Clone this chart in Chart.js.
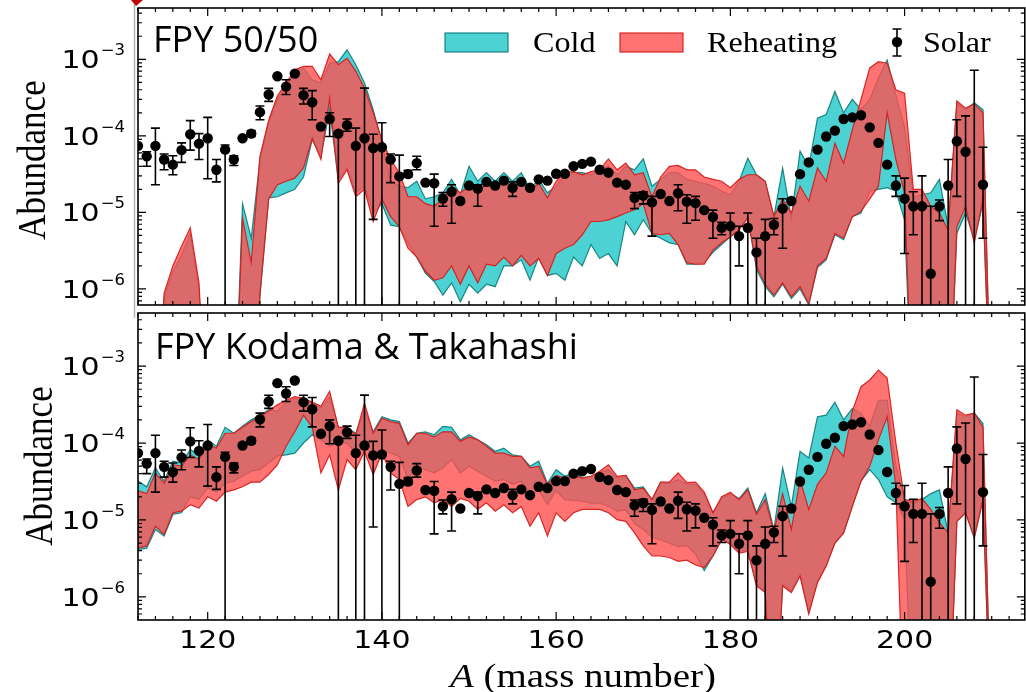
<!DOCTYPE html>
<html>
<head>
<meta charset="utf-8">
<title>r-process abundances, A = 112-210</title>
<script src="https://cdn.jsdelivr.net/npm/chart.js@4.4.1/dist/chart.umd.min.js"></script>
<style>
  html, body { margin: 0; padding: 0; background: #fff; overflow: hidden; }
  #wrap { position: relative; width: 1026px; height: 692px; overflow: hidden; }
  #wrap canvas { position: absolute; left: 0; top: 0; }
</style>
</head>
<body>
<div id="wrap">
  <canvas id="topChart" width="1030" height="692"></canvas>
  <canvas id="bottomChart" width="1030" height="692"></canvas>
</div>
<script>
// below the plotted range (band goes to zero there)
const OFF = 1e-8;

const massNumber = [
  112, 113, 114, 115, 116, 117, 118, 119, 120, 121,
  122, 123, 124, 125, 126, 127, 128, 129, 130, 131,
  132, 133, 134, 135, 136, 137, 138, 139, 140, 141,
  142, 143, 144, 145, 146, 147, 148, 149, 150, 151,
  152, 153, 154, 155, 156, 157, 158, 159, 160, 161,
  162, 163, 164, 165, 166, 167, 168, 169, 170, 171,
  172, 173, 174, 175, 176, 177, 178, 179, 180, 181,
  182, 183, 184, 185, 186, 187, 188, 189, 190, 191,
  192, 193, 194, 195, 196, 197, 198, 199, 200, 201,
  202, 203, 204, 205, 206, 207, 208, 209, 210
];

// Solar r-process abundances with error bar ends (null = bar hidden by marker)
const solarAbund = [
  7.4e-5, 5.4e-5, 7.4e-5, 4.9e-5, 4.2e-5, 6.5e-5, 1.05e-4, 7.9e-5, 9.3e-5, 3.6e-5,
  6.6e-5, 4.9e-5, 9.3e-5, 1.07e-4, 2.04e-4, 3.47e-4, 6.0e-4, 4.4e-4, 6.5e-4, 3.4e-4,
  2.75e-4, 1.32e-4, 1.66e-4, 1.07e-4, 1.38e-4, 7.4e-5, 9.3e-5, 6.9e-5, 7.1e-5, 4.9e-5,
  2.95e-5, 3.16e-5, 4.4e-5, 2.45e-5, 2.4e-5, 1.51e-5, 1.86e-5, 1.41e-5, 2.24e-5, 2.04e-5,
  2.5e-5, 2.24e-5, 2.6e-5, 2.1e-5, 2.5e-5, 2.1e-5, 2.7e-5, 2.6e-5, 3.2e-5, 3.2e-5,
  4.0e-5, 4.3e-5, 4.6e-5, 3.6e-5, 3.3e-5, 2.45e-5, 2.3e-5, 1.55e-5, 1.66e-5, 1.35e-5,
  1.74e-5, 1.41e-5, 1.78e-5, 1.38e-5, 1.32e-5, 1.07e-5, 8.7e-6, 6.3e-6, 6.6e-6, 4.9e-6,
  6.3e-6, 3.0e-6, 4.9e-6, 6.9e-6, 1.12e-5, 1.41e-5, 3.16e-5, 4.5e-5, 6.6e-5, 9.8e-5,
  1.17e-4, 1.66e-4, 1.74e-4, 1.86e-4, 1.29e-4, 8.1e-5, 4.2e-5, 2.24e-5, 1.51e-5, 1.2e-5,
  1.2e-5, 1.58e-6, 1.2e-5, 2.24e-5, 8.5e-5, 6.2e-5, 3.0e-7, 2.3e-5, null
];
const solarErrHi = [
  null, 6.2e-5, 1.26e-4, 5.8e-5, 5.5e-5, 8.1e-5, 1.58e-4, 1.07e-4, 1.74e-4, 4.9e-5,
  7.6e-5, 5.5e-5, null, 1.17e-4, 2.45e-4, 4.17e-4, null, 5.4e-4, null, 4.17e-4,
  3.9e-4, null, 2.0e-4, 1.12e-4, 1.66e-4, 1.26e-4, 4.2e-4, 1.05e-4, 1.48e-4, 5.8e-5,
  5.6e-5, 3.55e-5, 5.4e-5, null, 3.16e-5, 1.82e-5, 2.3e-5, null, null, 2.3e-5,
  null, null, null, 2.5e-5, null, null, null, null, null, null,
  null, null, null, null, null, null, null, 1.82e-5, 1.86e-5, 1.62e-5,
  null, null, 2.3e-5, 1.7e-5, 1.62e-5, null, 1.07e-5, 7.4e-6, 9.8e-6, 6.6e-6,
  9.8e-6, 4.6e-6, 8.1e-6, 8.3e-6, 1.51e-5, null, null, null, null, null,
  null, null, null, null, null, null, null, 3.0e-5, 2.8e-5, 1.86e-5,
  3.0e-5, 1.2e-5, 1.45e-5, 4.9e-5, 1.62e-4, 1.82e-4, 7.2e-4, 7.1e-5, null
];
const solarErrLo = [
  null, 4.0e-5, 2.3e-5, 3.6e-5, 3.1e-5, 4.5e-5, 6.5e-5, 4.9e-5, 2.75e-5, 2.5e-5,
  OFF, 4.1e-5, null, 9.8e-5, 1.62e-4, 2.82e-4, null, 3.47e-4, null, 2.6e-4,
  1.62e-4, null, 9.8e-5, OFF, 1.15e-4, OFF, OFF, 8.1e-6, OFF, 2.45e-5,
  OFF, 2.9e-5, 3.6e-5, null, 6.6e-6, 1.2e-5, 7.2e-6, null, null, 1.2e-5,
  null, null, null, 1.62e-5, null, null, null, null, null, null,
  null, null, null, null, null, null, null, 1.12e-5, 1.29e-5, 4.9e-6,
  null, null, 1.05e-5, 7.2e-6, 7.9e-6, null, 4.6e-6, 5.1e-6, OFF, 2.0e-6,
  OFF, OFF, OFF, 5.1e-6, 3.4e-6, null, null, null, null, null,
  null, null, null, null, null, null, null, 1.62e-5, 2.9e-6, 5.1e-6,
  OFF, OFF, 7.8e-6, OFF, 1.62e-5, OFF, OFF, 4.6e-6, null
];

// FPY 50/50 : cold and reheating bands (lower / upper edge)
const coldLo5050 = [
  OFF, OFF, OFF, OFF, OFF, OFF, OFF, OFF, OFF, OFF,
  OFF, OFF, OFF, OFF, 7.9e-7, 1.55e-5, 1.6e-5, 1.8e-5, 2.0e-5, 2.9e-5,
  8.9e-5, 5.4e-5, 2.2e-4, 2.7e-5, 3.8e-5, 1.8e-5, 2.2e-5, 9.8e-6, 1.3e-5, 6.8e-6,
  6.5e-6, 4.0e-6, 2.6e-6, 1.6e-6, 1.25e-6, 8.3e-7, 1.2e-6, 6.8e-7, 1.15e-6, 8.8e-7,
  1.15e-6, 1.07e-6, 2.0e-6, 2.0e-6, 2.4e-6, 1.3e-6, 2.6e-6, 1.5e-6, 1.6e-6, 1.3e-6,
  2.6e-6, 2.0e-6, 3.8e-6, 2.5e-6, 2.9e-6, 2.0e-6, 7.6e-6, 5.1e-6, 8.0e-6, 5.3e-6,
  4.6e-6, 4.0e-6, 3.8e-6, 2.1e-6, 2.1e-6, 2.2e-6, 3.0e-6, 3.8e-6, 4.8e-6, 5.9e-6,
  8.8e-6, 1.8e-6, 1.07e-6, 7.9e-7, 1.15e-6, 7.5e-7, 1.0e-6, 6.2e-7, 1.9e-6, 2.4e-6,
  5.1e-6, 4.4e-6, 8.8e-6, 9.8e-6, 1.9e-5, 2.0e-5, 2.1e-5, 1.9e-5, 8.0e-6, OFF,
  OFF, OFF, OFF, OFF, 5.3e-6, 9.8e-6, 4.4e-6, 1.3e-5, OFF
];
const coldHi5050 = [
  OFF, OFF, OFF, 7.7e-7, 1.7e-6, 2.75e-6, 5.3e-6, 9.7e-7, OFF, OFF,
  OFF, OFF, 1.3e-5, 4.6e-6, 4.9e-5, 1.5e-4, 3.0e-4, 4.4e-4, 7.0e-4, 7.7e-4,
  5.4e-4, 4.9e-4, 8.9e-4, 9.3e-4, 1.33e-3, 8.5e-4, 4.9e-4, 2.2e-4, 8.0e-5, 2.55e-5,
  2.2e-5, 2.1e-5, 2.55e-5, 1.5e-5, 1.6e-5, 1.8e-5, 2.7e-5, 1.7e-5, 4.0e-5, 2.55e-5,
  3.3e-5, 2.55e-5, 3.3e-5, 2.55e-5, 3.3e-5, 2.0e-5, 2.7e-5, 1.8e-5, 2.2e-5, 3.1e-5,
  3.3e-5, 3.3e-5, 3.1e-5, 3.6e-5, 4.0e-5, 3.1e-5, 4.0e-5, 3.6e-5, 5.0e-5, 2.2e-5,
  2.7e-5, 3.3e-5, 3.3e-5, 2.7e-5, 2.55e-5, 2.4e-5, 2.2e-5, 1.9e-5, 1.7e-5, 2.55e-5,
  5.1e-5, 3.1e-5, 2.55e-5, 8.8e-6, 3.8e-5, 8.4e-6, 6.3e-5, 4.0e-5, 1.7e-4, 1.9e-4,
  3.8e-4, 2.0e-4, 3.0e-4, 2.2e-4, 3.0e-4, 5.7e-4, 9.8e-4, 3.4e-4, 1.3e-4, 1.6e-5,
  1.7e-5, 1.8e-5, 2.7e-5, 6.5e-6, 2.7e-4, 2.2e-4, 2.7e-4, 2.2e-4, OFF
];
const hotLo5050 = [
  OFF, OFF, OFF, OFF, OFF, OFF, OFF, OFF, OFF, OFF,
  OFF, OFF, OFF, OFF, 8.8e-7, 1.5e-5, 2.3e-5, 2.55e-5, 2.8e-5, 3.8e-5,
  9.3e-5, 4.9e-5, 3.1e-4, 2.4e-5, 3.6e-5, 1.6e-5, 2.0e-5, 7.6e-6, 1.5e-5, 8.8e-6,
  6.5e-6, 3.4e-6, 2.6e-6, 1.7e-6, 1.3e-6, 1.4e-6, 2.0e-6, 1.15e-6, 2.0e-6, 1.2e-6,
  2.1e-6, 2.0e-6, 2.6e-6, 2.0e-6, 2.75e-6, 2.0e-6, 2.5e-6, 1.5e-6, 2.9e-6, 3.4e-6,
  3.8e-6, 5.1e-6, 7.6e-6, 7.6e-6, 8.0e-6, 8.8e-6, 9.8e-6, 1.08e-5, 1.3e-5, 5.3e-6,
  5.1e-6, 5.3e-6, 3.8e-6, 2.2e-6, 2.1e-6, 2.1e-6, 3.2e-6, 4.0e-6, 4.8e-6, 5.9e-6,
  8.4e-6, 2.0e-6, 1.15e-6, 8.3e-7, 1.2e-6, 7.9e-7, 1.07e-6, 6.4e-7, 2.0e-6, 2.5e-6,
  5.3e-6, 4.6e-6, 8.8e-6, 1.03e-5, 1.5e-5, 2.2e-5, 2.0e-4, 4.9e-5, 1.8e-5, OFF,
  OFF, OFF, OFF, OFF, 6.5e-6, 1.2e-5, 4.0e-6, 1.5e-5, OFF
];
const hotHi5050 = [
  OFF, OFF, OFF, 8.8e-7, 2.0e-6, 3.6e-6, 6.3e-6, 1.2e-6, OFF, OFF,
  OFF, OFF, 8.4e-6, 2.2e-6, 5.4e-5, 1.6e-4, 3.3e-4, 4.9e-4, 7.3e-4, 8.1e-4,
  8.1e-4, 5.4e-4, 1.17e-3, 8.5e-4, 1.03e-3, 7.0e-4, 4.2e-4, 2.0e-4, 8.9e-5, 4.9e-5,
  3.3e-5, 1.6e-5, 1.6e-5, 1.3e-5, 1.2e-5, 1.5e-5, 2.2e-5, 1.8e-5, 2.2e-5, 1.9e-5,
  2.3e-5, 2.0e-5, 2.55e-5, 2.2e-5, 2.55e-5, 1.9e-5, 2.4e-5, 1.55e-5, 2.55e-5, 3.3e-5,
  3.4e-5, 3.1e-5, 3.4e-5, 3.6e-5, 5.0e-5, 3.6e-5, 4.4e-5, 3.1e-5, 3.3e-5, 1.6e-5,
  2.9e-5, 4.0e-5, 4.1e-5, 3.6e-5, 3.6e-5, 2.9e-5, 2.7e-5, 2.55e-5, 2.1e-5, 2.7e-5,
  3.1e-5, 3.1e-5, 2.55e-5, 8.8e-6, 1.5e-5, 9.8e-6, 2.2e-5, 1.4e-5, 3.8e-5, 2.55e-5,
  8.0e-5, 4.4e-5, 1.2e-4, 3.0e-4, 7.7e-4, 9.3e-4, 8.9e-4, 4.0e-4, 3.6e-4, 2.0e-5,
  2.0e-5, 1.2e-5, 9.8e-6, 5.9e-6, 2.85e-4, 2.3e-4, 2.6e-4, 2.0e-4, OFF
];

// FPY Kodama & Takahashi : cold and reheating bands
const coldLoKT = [
  4.1e-6, 4.3e-6, 7.5e-6, 6.2e-6, 1.18e-5, 1.24e-5, 2.0e-5, 1.85e-5, 2.6e-5, 2.3e-5,
  3.0e-5, 3.2e-5, 3.7e-5, 4.3e-5, 4.5e-5, 5.5e-5, 6.8e-5, 7.0e-5, 7.4e-5, 1.0e-4,
  1.28e-4, 1.1e-4, 9.1e-5, 1.0e-4, 1.0e-4, 7.4e-5, 9.1e-5, 6.7e-5, 8.2e-5, 7.4e-5,
  6.7e-5, 3.35e-5, 5.0e-5, 4.5e-5, 4.1e-5, 4.75e-5, 6.1e-5, 4.1e-5, 5.0e-5, 4.3e-5,
  3.7e-5, 3.2e-5, 3.35e-5, 2.9e-5, 3.2e-5, 2.0e-5, 2.46e-5, 1.58e-5, 2.4e-5, 1.84e-5,
  1.8e-5, 1.75e-5, 1.65e-5, 1.65e-5, 1.5e-5, 1.3e-5, 1.35e-5, 9.0e-6, 7.5e-6, 6.0e-6,
  5.5e-6, 5.0e-6, 4.5e-6, 4.6e-6, 3.6e-6, 2.2e-6, 3.4e-6, 5.6e-6, 5.0e-6, 3.9e-6,
  4.1e-6, 1.46e-6, 1.2e-6, OFF, 1.46e-6, 1.2e-6, 1.95e-6, 6.3e-7, 1.6e-6, 2.6e-6,
  5.0e-6, 6.8e-6, 1.5e-5, 3.2e-5, 4.5e-5, 3.35e-5, 2.0e-5, 1.67e-5, 1.01e-5, OFF,
  OFF, OFF, OFF, OFF, 9.6e-6, 1.24e-5, 5.9e-6, 1.84e-5, OFF
];
const coldHiKT = [
  3.2e-5, 2.7e-5, 4.75e-5, 3.2e-5, 5.8e-5, 5.5e-5, 8.2e-5, 7.0e-5, 1.1e-4, 9.1e-5,
  1.6e-4, 1.34e-4, 1.65e-4, 2.0e-4, 2.3e-4, 2.7e-4, 2.6e-4, 3.4e-4, 3.8e-4, 3.6e-4,
  3.3e-4, 2.85e-4, 4.0e-4, 1.6e-4, 1.6e-4, 1.34e-4, 2.7e-4, 1.4e-4, 2.2e-4, 2.0e-4,
  1.9e-4, 1.0e-4, 1.34e-4, 1.4e-4, 1.28e-4, 1.65e-4, 1.6e-4, 1.1e-4, 1.28e-4, 1.1e-4,
  9.5e-5, 7.8e-5, 8.6e-5, 7.0e-5, 6.7e-5, 5.0e-5, 5.8e-5, 3.0e-5, 4.5e-5, 3.7e-5,
  4.1e-5, 3.5e-5, 3.7e-5, 4.1e-5, 4.5e-5, 3.5e-5, 3.8e-5, 2.6e-5, 2.7e-5, 1.84e-5,
  3.1e-5, 3.0e-5, 3.35e-5, 2.9e-5, 2.9e-5, 2.2e-5, 1.24e-5, 1.9e-5, 2.2e-5, 1.9e-5,
  2.6e-5, 1.24e-5, 2.2e-5, 7.5e-6, 4.75e-5, 1.5e-5, 7.8e-5, 6.4e-5, 2.2e-4, 2.3e-4,
  3.4e-4, 2.0e-4, 2.8e-4, 2.45e-4, 1.65e-4, 3.6e-4, 3.6e-4, 5.0e-5, 1.84e-5, 1.67e-5,
  1.84e-5, 2.2e-5, 2.46e-5, 6.8e-6, 2.45e-4, 2.2e-4, 2.45e-4, 1.8e-4, OFF
];
const hotLoKT = [
  4.3e-6, 4.6e-6, 8.3e-6, 6.5e-6, 1.24e-5, 1.3e-5, 1.58e-5, 1.43e-5, 2.0e-5, 1.75e-5,
  2.3e-5, 2.46e-5, 2.7e-5, 3.1e-5, 3.1e-5, 3.9e-5, 5.2e-5, 9.1e-5, 1.4e-4, 2.3e-4,
  1.6e-4, 4.1e-5, 7.0e-5, 2.46e-5, 6.1e-5, 4.5e-5, 7.8e-5, 3.9e-5, 7.4e-5, 4.1e-5,
  3.35e-5, 1.5e-5, 1.84e-5, 2.0e-5, 1.67e-5, 1.84e-5, 1.5e-5, 1.9e-5, 1.75e-5, 1.37e-5,
  1.67e-5, 1.3e-5, 1.58e-5, 1.24e-5, 1.5e-5, 8.3e-6, 1.24e-5, 6.2e-6, 1.24e-5, 9.6e-6,
  1.24e-5, 1.37e-5, 1.37e-5, 1.37e-5, 1.24e-5, 1.01e-5, 9.6e-6, 6.8e-6, 4.6e-6, 3.4e-6,
  3.4e-6, 3.25e-6, 2.9e-6, 3.0e-6, 2.6e-6, 2.4e-6, 3.4e-6, 5.6e-6, 4.8e-6, 3.7e-6,
  3.9e-6, 1.39e-6, 1.14e-6, OFF, 1.39e-6, 1.14e-6, 1.86e-6, 6.0e-7, 1.53e-6, 2.5e-6,
  5.0e-6, 6.8e-6, 1.5e-5, 3.2e-5, 5.0e-5, 1.1e-4, 2.2e-4, 2.7e-5, OFF, OFF,
  OFF, OFF, OFF, OFF, 9.6e-6, 1.24e-5, 5.9e-6, 1.84e-5, OFF
];
const hotHiKT = [
  2.4e-5, 2.2e-5, 4.1e-5, 3.0e-5, 5.2e-5, 5.0e-5, 7.0e-5, 6.1e-5, 9.5e-5, 8.6e-5,
  1.34e-4, 1.34e-4, 1.6e-4, 1.9e-4, 2.2e-4, 2.6e-4, 3.15e-4, 3.6e-4, 4.0e-4, 3.8e-4,
  3.4e-4, 3.0e-4, 4.7e-4, 1.6e-4, 1.6e-4, 1.28e-4, 3.3e-4, 1.34e-4, 2.1e-4, 1.9e-4,
  1.8e-4, 9.5e-5, 1.34e-4, 1.34e-4, 1.2e-4, 1.4e-4, 1.4e-4, 1.05e-4, 1.2e-4, 1.1e-4,
  9.1e-5, 7.4e-5, 7.4e-5, 6.7e-5, 6.7e-5, 4.75e-5, 5.0e-5, 2.9e-5, 3.8e-5, 3.5e-5,
  3.8e-5, 3.5e-5, 3.7e-5, 4.3e-5, 5.2e-5, 3.7e-5, 3.8e-5, 2.46e-5, 2.6e-5, 1.84e-5,
  3.1e-5, 3.1e-5, 4.1e-5, 3.05e-5, 3.1e-5, 2.3e-5, 1.24e-5, 2.0e-5, 2.3e-5, 1.84e-5,
  2.46e-5, 1.18e-5, 1.84e-5, 7.1e-6, 2.2e-5, 7.5e-6, 3.35e-5, 1.37e-5, 2.9e-5, 4.1e-5,
  9.1e-5, 6.7e-5, 2.6e-4, 5.4e-4, 6.6e-4, 8.9e-4, 7.0e-4, 1.0e-4, 1.84e-5, 1.75e-5,
  1.9e-5, 1.37e-5, 9.2e-6, 6.8e-6, 2.7e-4, 2.3e-4, 2.45e-4, 1.6e-4, OFF
];

const xTickValues = [120, 140, 160, 180, 200];
const yTickValues = [1e-6, 1e-5, 1e-4, 1e-3];

const COLD_FILL = 'rgba(0, 191, 191, 0.7)';
const COLD_EDGE = 'rgba(0, 115, 115, 0.85)';
const HOT_FILL = 'rgba(255, 80, 80, 0.8)';
const HOT_EDGE = 'rgba(215, 30, 30, 0.95)';

const TICK_FONT = '25px "DejaVu Sans"';
const SUP_FONT = '15px "DejaVu Sans"';
const SERIF = '"Liberation Serif", "Times New Roman", serif';
const DOT_R = 5.2;

// text drawn with a horizontal stretch factor
function stretchText(ctx, text, x, y, font, sx, align) {
  ctx.font = font;
  const w = ctx.measureText(text).width * sx;
  const left = align === 'right' ? x - w : align === 'center' ? x - w / 2 : x;
  ctx.save();
  ctx.translate(left, y);
  ctx.scale(sx, 1);
  ctx.textAlign = 'left';
  ctx.textBaseline = 'alphabetic';
  ctx.fillText(text, 0, 0);
  ctx.restore();
  return w;
}

function errorBar(ctx, px, yTop, yBot, cap) {
  ctx.beginPath();
  ctx.moveTo(px, yTop); ctx.lineTo(px, yBot);
  ctx.moveTo(px - cap, yTop); ctx.lineTo(px + cap, yTop);
  ctx.moveTo(px - cap, yBot); ctx.lineTo(px + cap, yBot);
  ctx.stroke();
}

// error bars of the solar points, drawn just under the markers
const solarErrors = {
  id: 'solarErrors',
  beforeDatasetDraw(chart, args) {
    if (chart.data.datasets[args.index].label !== 'Solar') return;
    const { ctx, chartArea: a, scales: { x, y } } = chart;
    ctx.save();
    ctx.beginPath();
    ctx.rect(a.left, a.top, a.right - a.left, a.bottom - a.top);
    ctx.clip();
    ctx.strokeStyle = '#000';
    ctx.lineWidth = 1.6;
    massNumber.forEach((m, i) => {
      if (solarErrHi[i] == null) return;
      errorBar(ctx, x.getPixelForValue(m), y.getPixelForValue(solarErrHi[i]),
               y.getPixelForValue(solarErrLo[i]), 4.5);
    });
    ctx.restore();
  }
};

function drawLegend(ctx) {
  ctx.save();
  ctx.lineWidth = 1.2;
  ctx.fillStyle = COLD_FILL; ctx.fillRect(445, 33, 63, 19);
  ctx.strokeStyle = COLD_EDGE; ctx.strokeRect(445, 33, 63, 19);
  ctx.fillStyle = HOT_FILL; ctx.fillRect(620, 33, 63, 19);
  ctx.strokeStyle = HOT_EDGE; ctx.strokeRect(620, 33, 63, 19);
  ctx.strokeStyle = '#000'; ctx.lineWidth = 1.6;
  errorBar(ctx, 897, 29, 56, 4.5);
  ctx.fillStyle = '#000';
  ctx.beginPath(); ctx.arc(897, 42, DOT_R, 0, Math.PI * 2); ctx.fill();
  const f = '30px ' + SERIF;
  stretchText(ctx, 'Cold', 533, 52, f, 1.07, 'left');
  stretchText(ctx, 'Reheating', 707, 52, f, 1.07, 'left');
  stretchText(ctx, 'Solar', 923, 52, f, 1.07, 'left');
  ctx.restore();
}

// frame, inward ticks, tick labels, titles
const panelFrame = {
  id: 'panelFrame',
  afterDraw(chart, args, opts) {
    const { ctx, chartArea: a, scales: { x, y } } = chart;
    ctx.save();
    ctx.strokeStyle = '#000';
    ctx.fillStyle = '#000';

    ctx.lineWidth = 1.2;
    ctx.beginPath();
    for (let v = 112; v <= x.max; v += 2) {
      const px = x.getPixelForValue(v);
      const len = xTickValues.includes(v) ? 8 : 4;
      ctx.moveTo(px, a.bottom); ctx.lineTo(px, a.bottom - len);
      ctx.moveTo(px, a.top); ctx.lineTo(px, a.top + len);
    }
    const d0 = Math.floor(Math.log10(y.min)), d1 = Math.floor(Math.log10(y.max));
    for (let d = d0; d <= d1; d++) {
      for (let k = 1; k <= 9; k++) {
        const v = k * Math.pow(10, d);
        if (v < y.min || v > y.max) continue;
        const py = y.getPixelForValue(v);
        const len = k === 1 ? 8 : 4;
        ctx.moveTo(a.left, py); ctx.lineTo(a.left + len, py);
        ctx.moveTo(a.right, py); ctx.lineTo(a.right - len, py);
      }
    }
    ctx.stroke();

    ctx.lineWidth = 1.6;
    ctx.strokeRect(a.left, a.top, a.right - a.left, a.bottom - a.top);

    // y tick labels 10^n
    yTickValues.forEach(v => {
      const py = y.getPixelForValue(v);
      if (py < a.top || py > a.bottom) return;
      const sup = '\u2212' + String(-Math.round(Math.log10(v)));
      ctx.font = SUP_FONT;
      const supW = ctx.measureText(sup).width * 1.1;
      ctx.font = TICK_FONT;
      const baseW = ctx.measureText('10').width * 1.2;
      const right = 125;
      stretchText(ctx, '10', right - supW - baseW - 1, py + 9, TICK_FONT, 1.2, 'left');
      stretchText(ctx, sup, right - supW, py - 4, SUP_FONT, 1.1, 'left');
    });

    if (opts.xLabels) {
      xTickValues.forEach(v => {
        stretchText(ctx, String(v), x.getPixelForValue(v), 648, TICK_FONT, 1.2, 'center');
      });
      // x axis title: italic A + (mass number)
      const w = stretchText(ctx, 'A', 450, 687, 'italic 33px ' + SERIF, 1.18, 'left');
      stretchText(ctx, ' (mass number)', 450 + w, 687, '33px ' + SERIF, 1.18, 'left');
    }

    // y axis title
    ctx.save();
    ctx.translate(opts.yTitleX, opts.yTitleY);
    ctx.rotate(-Math.PI / 2);
    ctx.scale(1, 1.15);
    ctx.font = '35px ' + SERIF;
    ctx.textAlign = 'center';
    ctx.textBaseline = 'alphabetic';
    ctx.fillText('Abundance', 0, 0);
    ctx.restore();

    // panel title
    ctx.font = '36px "Open Sans"';
    ctx.textAlign = 'left';
    ctx.textBaseline = 'alphabetic';
    ctx.fillText(opts.title, opts.titleX, opts.titleY);

    if (opts.legend) {
      drawLegend(ctx);
      // grey frame line and marker at the left edge
      ctx.strokeStyle = '#b4b4b4';
      ctx.lineWidth = 1.5;
      ctx.beginPath(); ctx.moveTo(134.5, 0); ctx.lineTo(134.5, 318); ctx.stroke();
      ctx.fillStyle = '#c00000';
      ctx.beginPath(); ctx.moveTo(131, 0); ctx.lineTo(143, 0); ctx.lineTo(136, 6); ctx.closePath(); ctx.fill();
    }
    ctx.restore();
  }
};

const pts = arr => massNumber.map((m, i) => ({ x: m, y: arr[i] }));

function edgeSet(label, data, color, order, fill, bg) {
  return {
    label: label, data: pts(data), borderColor: color, borderWidth: 1.2,
    pointRadius: 0, pointHitRadius: 0, tension: 0,
    fill: fill, backgroundColor: bg || 'transparent', order: order
  };
}

function makePanel(canvasId, bands, layout, frameOpts) {
  return new Chart(document.getElementById(canvasId), {
    type: 'line',
    data: {
      datasets: [
        edgeSet('Cold low', bands[0], COLD_EDGE, 2, false),
        edgeSet('Cold', bands[1], COLD_EDGE, 2, '-1', COLD_FILL),
        edgeSet('Reheating low', bands[2], HOT_EDGE, 1, false),
        edgeSet('Reheating', bands[3], HOT_EDGE, 1, '-1', HOT_FILL),
        {
          label: 'Solar', data: pts(solarAbund), showLine: false, order: 0,
          pointRadius: DOT_R, pointBackgroundColor: '#000', pointBorderWidth: 0
        }
      ]
    },
    options: {
      responsive: false,
      animation: false,
      devicePixelRatio: 1,
      events: [],
      layout: { padding: layout.padding },
      scales: {
        x: { type: 'linear', min: 112, max: 213.8, display: false },
        y: { type: 'logarithmic', min: layout.yMin, max: layout.yMax, display: false }
      },
      plugins: {
        legend: { display: false },
        tooltip: { enabled: false },
        panelFrame: frameOpts
      }
    },
    plugins: [solarErrors, panelFrame]
  });
}

makePanel('topChart', [coldLo5050, coldHi5050, hotLo5050, hotHi5050], {
  padding: { left: 138, top: 8, right: 3, bottom: 387 },
  yMin: Math.pow(10, -6.21), yMax: Math.pow(10, -2.33)
}, { title: 'FPY 50/50', titleX: 153, titleY: 52, yTitleX: 45, yTitleY: 160, legend: true, xLabels: false });

makePanel('bottomChart', [coldLoKT, coldHiKT, hotLoKT, hotHiKT], {
  padding: { left: 138, top: 313, right: 3, bottom: 72 },
  yMin: Math.pow(10, -6.30), yMax: Math.pow(10, -2.31)
}, { title: 'FPY Kodama & Takahashi', titleX: 155, titleY: 359, yTitleX: 52, yTitleY: 466, legend: false, xLabels: true });
</script>
</body>
</html>
